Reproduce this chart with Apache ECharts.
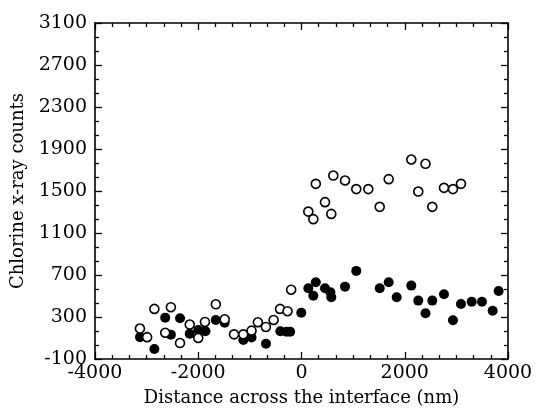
<!DOCTYPE html>
<html>
<head>
<meta charset="utf-8">
<script src="https://cdn.jsdelivr.net/npm/echarts@6/dist/echarts.min.js"></script>
<style>
  html, body { margin: 0; padding: 0; background: #fff; }
  #chart { width: 537px; height: 412px; }
</style>
</head>
<body>
<div id="chart"></div>
<script>
// tick labels
const xTicks = [-4000, -2000, 0, 2000, 4000]
const yTicks = [-100, 300, 700, 1100, 1500, 1900, 2300, 2700, 3100]

// open circles
const openDistance = [
  -3130, -2990, -2850, -2640, -2530, -2353, -2165, -2000, -1870, -1660,
  -1488, -1307, -1127, -968, -845, -690, -540, -416, -270, -200,
  132, 229, 277, 455, 577, 616, 843, 1061, 1294, 1515,
  1689, 2127, 2262, 2402, 2533, 2760, 2934, 3089
]
const openCounts = [
  190, 108, 377, 150, 393, 52, 228, 100, 253, 421,
  278, 135, 135, 170, 250, 205, 272, 377, 355, 560,
  1304, 1232, 1568, 1394, 1282, 1647, 1600, 1518, 1518, 1349,
  1613, 1800, 1495, 1759, 1349, 1530, 1518, 1568
]

// filled circles
const filledDistance = [
  -3128, -2850, -2640, -2531, -2353, -2165, -1999, -1860, -1660, -1488,
  -1127, -968, -688, -410, -290, -220, -4, 132, 229, 277,
  455, 560, 577, 843, 1061, 1515, 1689, 1844, 2127, 2262,
  2402, 2533, 2760, 2934, 3089, 3296, 3496, 3703, 3819
]
const filledCounts = [
  108, -5, 294, 132, 288, 140, 176, 165, 272, 246,
  81, 105, 45, 165, 160, 160, 340, 574, 503, 631,
  574, 536, 488, 589, 739, 574, 631, 488, 599, 456,
  336, 456, 517, 269, 424, 446, 446, 360, 548
]

const FONT = 'DejaVu Serif'

// minor ticks between the labelled ticks
const between = (ticks, n) => {
  const out = []
  for (let i = 0; i < ticks.length - 1; i++) {
    const step = (ticks[i + 1] - ticks[i]) / n
    for (let k = 1; k < n; k++) out.push(ticks[i] + step * k)
  }
  return out
}

const makeAxis = (position, ticks, tickLen, main) => ({
  type: 'value',
  position,
  offset: 0,
  min: ticks[0],
  max: ticks[ticks.length - 1],
  splitLine: { show: false },
  axisLine: { show: main, onZero: false, lineStyle: { color: '#000', width: 1.6 } },
  axisTick: {
    show: true,
    inside: true,
    length: tickLen,
    customValues: ticks,
    lineStyle: { color: '#000', width: 1.3 }
  },
  axisLabel: { show: false, customValues: ticks }
})

const xBottom = makeAxis('bottom', xTicks, 7, true)
xBottom.axisLabel = {
  show: true,
  customValues: xTicks,
  formatter: (v) => String(v),
  color: '#000',
  fontFamily: FONT,
  fontSize: 19,
  margin: 5
}
xBottom.name = 'Distance across the interface (nm)'
xBottom.nameLocation = 'middle'
xBottom.nameGap = 30
xBottom.nameTextStyle = { color: '#000', fontFamily: FONT, fontSize: 18 }

const yLeft = makeAxis('left', yTicks, 7, true)
yLeft.axisLabel = {
  show: true,
  customValues: yTicks,
  formatter: (v) => String(v),
  color: '#000',
  fontFamily: FONT,
  fontSize: 19,
  margin: 8
}
yLeft.name = 'Chlorine x-ray counts'
yLeft.nameLocation = 'middle'
yLeft.nameGap = 58
yLeft.nameTextStyle = { color: '#000', fontFamily: FONT, fontSize: 18 }

const xMinor = between(xTicks, 6)
const yMinor = between(yTicks, 3)

const xAxes = [
  xBottom,
  makeAxis('top', xTicks, 7, true),
  makeAxis('bottom', xTicks, 4, false),
  makeAxis('top', xTicks, 4, false)
]
xAxes[2].axisTick.customValues = xMinor
xAxes[3].axisTick.customValues = xMinor

const yAxes = [
  yLeft,
  makeAxis('right', yTicks, 7, true),
  makeAxis('left', yTicks, 4, false),
  makeAxis('right', yTicks, 4, false)
]
yAxes[2].axisTick.customValues = yMinor
yAxes[3].axisTick.customValues = yMinor

const chart = echarts.init(document.getElementById('chart'))
chart.setOption({
  animation: false,
  backgroundColor: '#fff',
  grid: { left: 95, right: 29, top: 23, bottom: 53, containLabel: false, outerBoundsMode: 'none' },
  xAxis: xAxes,
  yAxis: yAxes,
  series: [
    {
      type: 'scatter',
      name: 'filled',
      symbol: 'circle',
      symbolSize: 10,
      itemStyle: { color: '#000', opacity: 1 },
      data: filledDistance.map((d, i) => [d, filledCounts[i]])
    },
    {
      type: 'scatter',
      name: 'open',
      symbol: 'circle',
      symbolSize: 9,
      itemStyle: { color: '#fff', borderColor: '#000', borderWidth: 1.6, opacity: 1 },
      data: openDistance.map((d, i) => [d, openCounts[i]])
    }
  ]
})

window.addEventListener('resize', () => {
  chart.resize()
})
</script>
</body>
</html>
